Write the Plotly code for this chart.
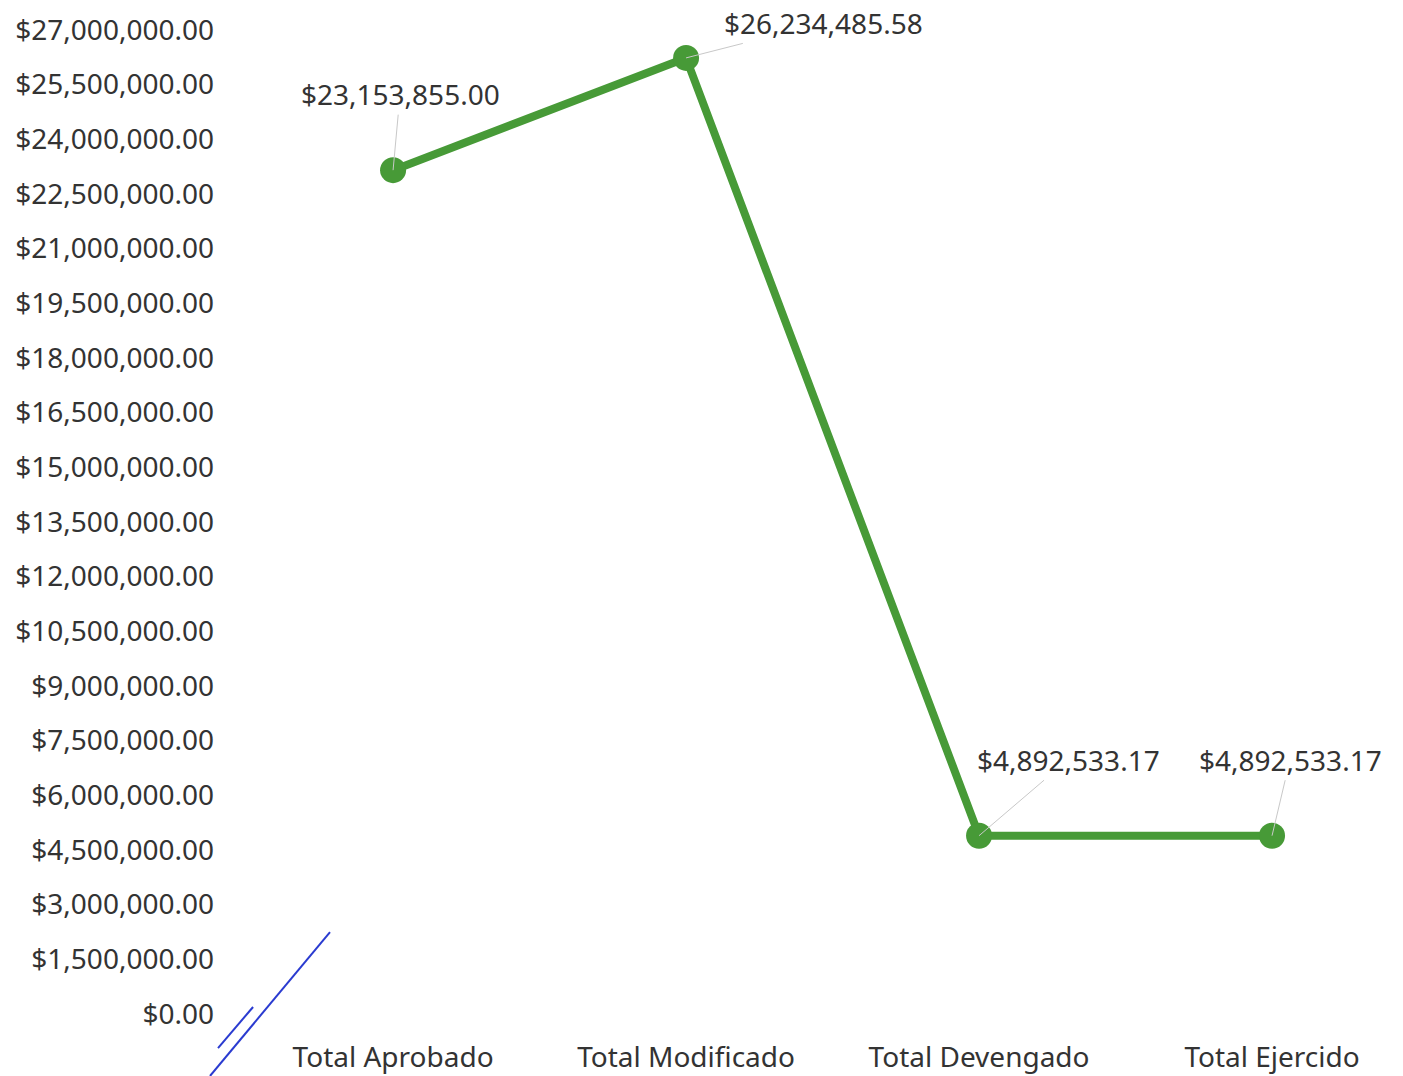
import plotly.graph_objects as go

# categories and values
categorias = ["Total Aprobado", "Total Modificado", "Total Devengado", "Total Ejercido"]
montos = [23153855.00, 26234485.58, 4892533.17, 4892533.17]

# y axis ticks every 1.5M from 0 to 27M
y_ticks = [i * 1500000 for i in range(19)]
y_tick_text = [f"${v:,.2f}" for v in y_ticks]

# offsets (pixels) of each data label from its point
label_dx = [7, 137, 89, 18]
label_dy = [-76, -35, -76, -76]

verde = "#479a37"
texto = "#333333"
fuente = "Noto Sans"

fig = go.Figure()
fig.add_trace(go.Scatter(
    x=list(range(len(categorias))), y=montos, mode="lines+markers",
    line=dict(color=verde, width=8),
    marker=dict(color=verde, size=26),
    hoverinfo="skip", showlegend=False,
))

for i, (v, dx, dy) in enumerate(zip(montos, label_dx, label_dy)):
    fig.add_annotation(
        x=i, y=v, text=f"${v:,.2f}", showarrow=True, arrowhead=0,
        arrowwidth=1, arrowcolor="#c8c8c8", ax=dx, ay=dy, standoff=0,
        font=dict(family=fuente, size=28, color=texto),
    )

# blue pen stroke from the scanned page
for x0, y0, x1, y1 in [(0.0726, 0.0833, -0.0311, -0.063), (-0.0242, -0.0346, 0.0061, 0.0071)]:
    fig.add_shape(type="line", xref="paper", yref="paper", x0=x0, y0=y0, x1=x1, y1=y1,
                  line=dict(color="#2a3bd0", width=2))

fig.update_xaxes(
    tickvals=list(range(len(categorias))), ticktext=categorias,
    range=[-0.502, 3.447], showgrid=False, zeroline=False, showline=False,
    ticks="", ticklabelstandoff=24, automargin=False,
    tickfont=dict(family=fuente, size=28, color=texto),
)
fig.update_yaxes(
    tickvals=y_ticks, ticktext=y_tick_text, range=[0, 27000000],
    showgrid=False, zeroline=False, showline=False, ticks="",
    ticklabelstandoff=31, automargin=False,
    tickfont=dict(family=fuente, size=28, color=texto),
)
fig.update_layout(
    width=1395, height=1068,
    margin=dict(l=238, r=0, t=22, b=62),
    plot_bgcolor="white", paper_bgcolor="white",
    font=dict(family=fuente, color=texto),
)

fig.write_html("out.html")
